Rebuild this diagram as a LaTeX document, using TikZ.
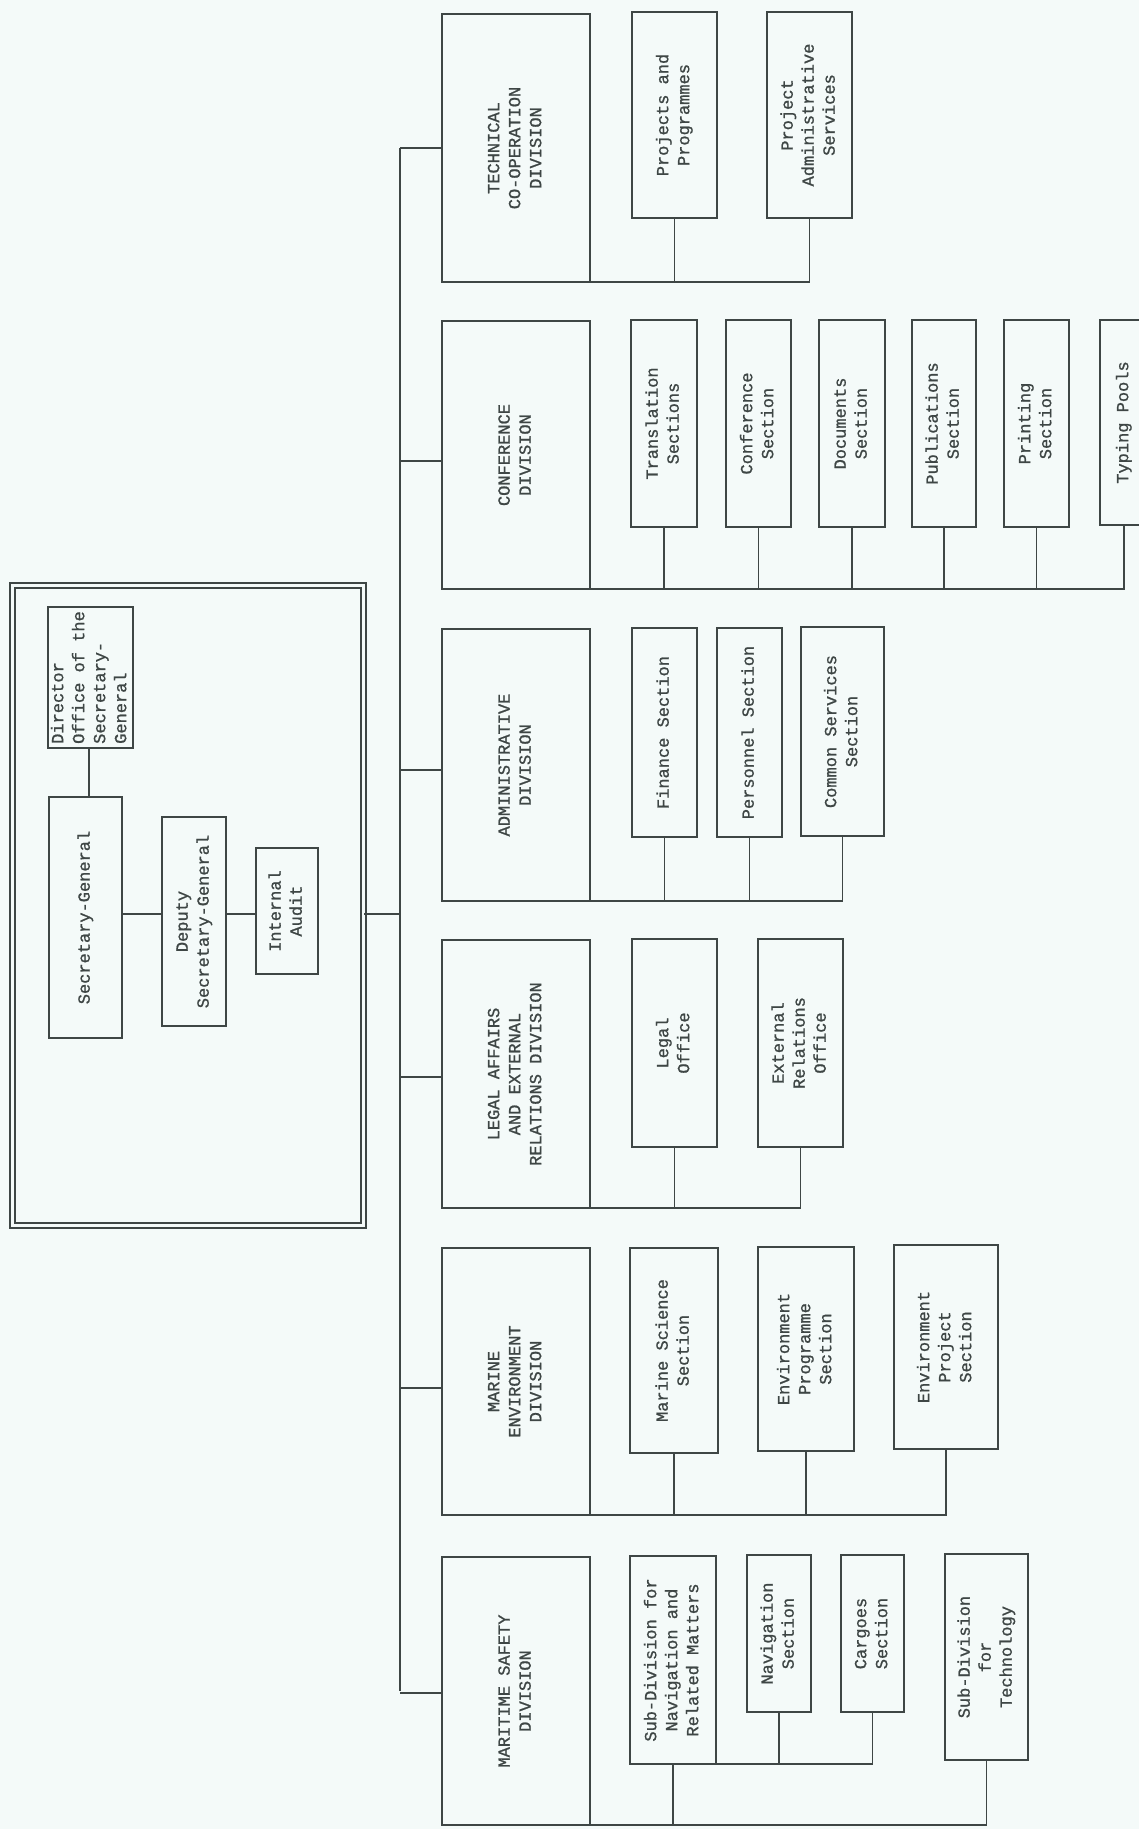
\documentclass[tikz,border=0pt]{standalone}
\usepackage{fontspec}
\usepackage{graphicx}
\newfontfamily\tw[FakeBold=1]{Liberation Mono}
\definecolor{ink}{HTML}{3E4645}
\definecolor{bg}{HTML}{F4FAF9}
\tikzset{
  obox/.style={draw=ink, line width=1.6pt, inner sep=0pt, outer sep=0pt, text=ink,
    font=\tw\fontsize{17}{21}\selectfont},
  link/.style={draw=ink, line width=1.6pt},
  frm/.style={draw=ink, double=bg, double distance=3.6pt, line width=1.3pt, inner sep=0pt}
}
\newcommand\orgbox[7][c]{%
  \pgfmathsetmacro\obw{#5-#3}%
  \pgfmathsetmacro\obh{#6-#4}%
  \pgfmathsetmacro\obx{(#3+#5)/2}%
  \pgfmathsetmacro\oby{(#4+#6)/2}%
  \node[obox, minimum width=\obw pt, minimum height=\obh pt] (#2) at (\obx,\oby)
    {\rotatebox{90}{\begin{tabular}{@{}#1@{}}#7\end{tabular}}};%
}
\begin{document}
\begin{tikzpicture}[x=1pt,y=-1pt]
\fill[bg] (0,0) rectangle (1139,1829);
\useasboundingbox (0,0) rectangle (1139,1829);

% Secretary-General frame
\node[frm, minimum width=351pt, minimum height=640pt] (frame) at (188,905.5) {};
\orgbox[l]{dir}{48}{607}{133}{748}{Director\\Office of the\\Secretary-\\General}
\orgbox{sg}{49}{797}{122}{1038}{Secretary-General}
\orgbox{dsg}{162}{817}{226}{1026}{Deputy\\Secretary-General}
\orgbox{ia}{256}{848}{318}{974}{Internal\\Audit}
\coordinate (hy) at (0,914);
\coordinate (trunk) at (400,0);

% divisions
\orgbox{tc}{442}{14}{590}{282}{TECHNICAL\\CO-OPERATION\\DIVISION}
\orgbox{conf}{442}{321}{590}{589}{CONFERENCE\\DIVISION}
\orgbox{adm}{442}{629}{590}{901}{ADMINISTRATIVE\\DIVISION}
\orgbox{leg}{442}{940}{590}{1208}{LEGAL AFFAIRS\\AND EXTERNAL\\RELATIONS DIVISION}
\orgbox{mar}{442}{1248}{590}{1515}{MARINE\\ENVIRONMENT\\DIVISION}
\orgbox{ms}{442}{1557}{590}{1825}{MARITIME SAFETY\\DIVISION}

% technical co-operation
\orgbox{pp}{632}{12}{717}{218}{Projects and\\Programmes}
\orgbox{pas}{767}{12}{852}{218}{Project\\Administrative\\Services}
% conference
\orgbox{trs}{631}{320}{697}{527}{Translation\\Sections}
\orgbox{cfs}{726}{320}{791}{527}{Conference\\Section}
\orgbox{doc}{819}{320}{885}{527}{Documents\\Section}
\orgbox{pub}{912}{320}{976}{527}{Publications\\Section}
\orgbox{prt}{1004}{320}{1069}{527}{Printing\\Section}
\orgbox{typ}{1100}{320}{1148}{525}{Typing Pools}
% administrative
\orgbox{fin}{632}{628}{697}{837}{Finance Section}
\orgbox{per}{717}{628}{782}{837}{Personnel Section}
\orgbox{cms}{801}{627}{884}{836}{Common Services\\Section}
% legal
\orgbox{lo}{632}{939}{717}{1147}{Legal\\Office}
\orgbox{ero}{758}{939}{843}{1147}{External\\Relations\\Office}
% marine environment
\orgbox{msc}{630}{1248}{718}{1453}{Marine Science\\Section}
\orgbox{epg}{758}{1247}{854}{1451}{Environment\\Programme\\Section}
\orgbox{epj}{894}{1245}{998}{1449}{Environment\\Project\\Section}
% maritime safety
\orgbox{sdn}{630}{1556}{716}{1764}{Sub-Division for\\Navigation and\\Related Matters}
\orgbox{nav}{747}{1555}{811}{1712}{Navigation\\Section}
\orgbox{cgo}{841}{1555}{904}{1712}{Cargoes\\Section}
\orgbox{tec}{945}{1554}{1028}{1760}{Sub-Division\\for\\Technology}

% top connectors
\draw[link] (dir.south -| 89,0) -- (sg.north -| 89,0);
\draw[link] (sg.east |- hy) -- (dsg.west |- hy);
\draw[link] (dsg.east |- hy) -- (ia.west |- hy);
\draw[link] (frame.east |- hy) -- (hy -| trunk);

% trunk and branches
\draw[link] (tc.west -| trunk) -- (ms.west -| trunk);
\foreach \d/\yy in {tc/148, conf/461, adm/770, leg/1077, mar/1388, ms/1693}
  \draw[link] (trunk |- 0,\yy) -- (\d.west |- 0,\yy);

% technical co-operation
\draw[link] (tc.south east) -- (pas.south |- tc.south) -- (pas.south);
\draw[link] (pp.south) -- (pp.south |- tc.south);
% conference
\draw[link] (conf.south east) -- (typ.south |- conf.south) -- (typ.south);
\foreach \s in {trs,cfs,doc,pub,prt}
  \draw[link] (\s.south) -- (\s.south |- conf.south);
% administrative
\draw[link] (adm.south east) -- (cms.south |- adm.south) -- (cms.south);
\foreach \s in {fin,per}
  \draw[link] (\s.south) -- (\s.south |- adm.south);
% legal
\draw[link] (leg.south east) -- (ero.south |- leg.south) -- (ero.south);
\draw[link] (lo.south) -- (lo.south |- leg.south);
% marine environment
\draw[link] (mar.south east) -- (epj.south |- mar.south) -- (epj.south);
\foreach \s in {msc,epg}
  \draw[link] (\s.south) -- (\s.south |- mar.south);
% maritime safety
\draw[link] (sdn.south east) -- (cgo.south |- sdn.south) -- (cgo.south);
\draw[link] (nav.south) -- (nav.south |- sdn.south);
\draw[link] (ms.south east) -- (tec.south |- ms.south) -- (tec.south);
\draw[link] (sdn.south) -- (sdn.south |- ms.south);
\end{tikzpicture}
\end{document}
